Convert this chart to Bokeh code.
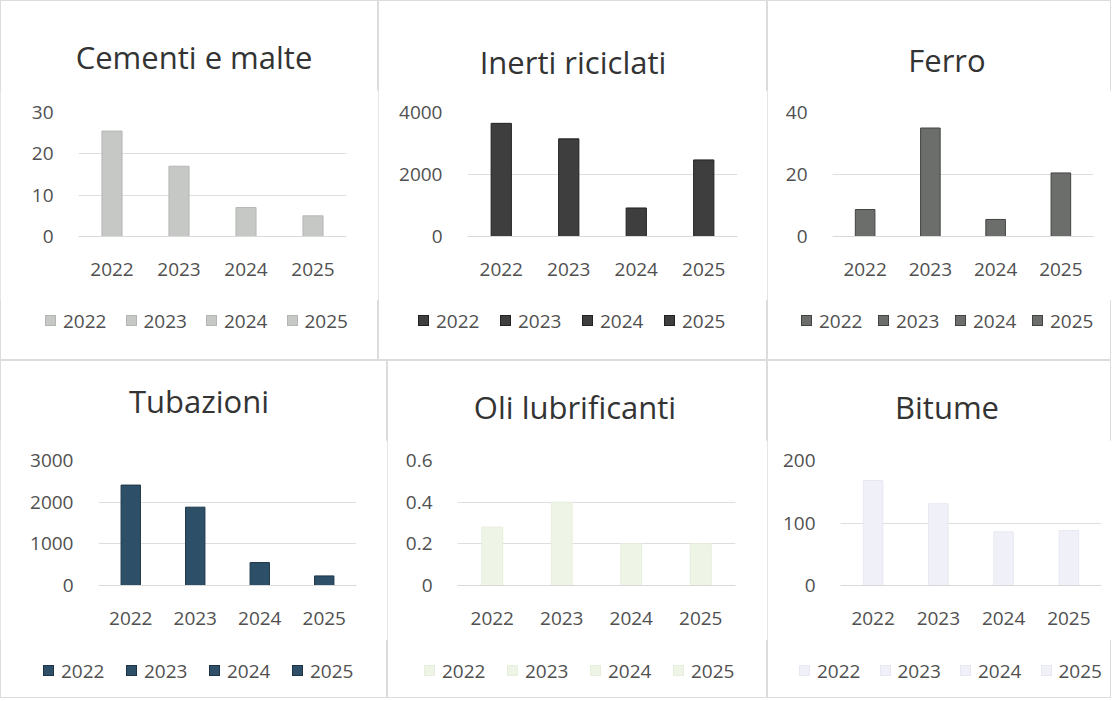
from bokeh.plotting import figure
from bokeh.models import ColumnDataSource, FactorRange, Range1d, FixedTicker, Div
from bokeh.layouts import column, row
from bokeh.embed import file_html
from bokeh.resources import INLINE

# ---------------- data ----------------
years = ["2022", "2023", "2024", "2025"]

titles = ["Cementi e malte", "Inerti riciclati", "Ferro",
          "Tubazioni", "Oli lubrificanti", "Bitume"]

cementi_malte = [25.5, 17, 7, 5]
inerti_riciclati = [3650, 3150, 920, 2470]
ferro = [8.7, 35, 5.5, 20.5]
tubazioni = [2410, 1880, 550, 230]
oli_lubrificanti = [0.28, 0.40, 0.20, 0.20]
bitume = [168, 131, 86, 88]

series = [cementi_malte, inerti_riciclati, ferro, tubazioni, oli_lubrificanti, bitume]

y_ticks = [[0, 10, 20, 30], [0, 2000, 4000], [0, 20, 40],
           [0, 1000, 2000, 3000], [0, 0.2, 0.4, 0.6], [0, 100, 200]]
y_tick_labels = [["0", "10", "20", "30"], ["0", "2000", "4000"], ["0", "20", "40"],
                 ["0", "1000", "2000", "3000"], ["0", "0.2", "0.4", "0.6"], ["0", "100", "200"]]

# ---------------- styles / layout ----------------
fills = ["#c6c8c6", "#3e3e3e", "#6c6e6c", "#2d5068", "#eef5e6", "#f0f0f8"]
lines = ["#b4b6b4", "#222222", "#424442", "#1d3547", "#e6efdc", "#e8e8f2"]

# row geometry: title height, chart height, chart border top, chart border bottom, legend height, legend centre y
ROW_TOP = dict(th=90, ch=210, mbt=22, mbb=64, lh=60, ly=20.5)
ROW_BOT = dict(th=80, ch=200, mbt=20, mbb=55, lh=58, ly=30.5)

# width, row, border left, border right, title centre x, title centre y, legend start x, legend step
panel_cfg = [
    (378, ROW_TOP, 78, 32, 194, 57, 45, 80.5),
    (389, ROW_TOP, 89, 30, 195, 62, 40, 82),
    (344, ROW_TOP, 65, 18, 180, 60, 34, 77),
    (387, ROW_BOT, 98, 31, 199, 41, 43, 83),
    (380, ROW_BOT, 70, 32, 188, 47, 37, 83),
    (344, ROW_BOT, 73, 10, 180, 47, 32, 80.5),
]

FONT = "'Open Sans'"
TEXT = "#505050"
DIV_STYLES = {"margin": "0", "padding": "0", "overflow": "visible"}


def title_div(i, w, g, tx, ty):
    html = (f'<div style="position:relative;width:{w}px;height:{g["th"]}px;">'
            f'<span style="position:absolute;left:{tx}px;top:{ty}px;'
            f'transform:translate(-50%,-50%);font-family:{FONT};font-size:31px;'
            f'line-height:1;color:#333333;white-space:nowrap;">{titles[i]}</span></div>')
    return Div(text=html, width=w, height=g["th"], styles=DIV_STYLES)


def legend_div(i, w, g, lx, step):
    parts = [f'<div style="position:relative;width:{w}px;height:{g["lh"]}px;">']
    cy = g["ly"]
    for k, y in enumerate(years):
        x0 = lx + k * step
        parts.append(
            f'<span style="position:absolute;left:{x0}px;top:{cy - 5.5}px;width:11px;height:11px;'
            f'box-sizing:border-box;background:{fills[i]};border:1px solid {lines[i]};"></span>')
        parts.append(
            f'<span style="position:absolute;left:{x0 + 18}px;top:{cy}px;transform:translateY(-50%);'
            f'font-family:{FONT};font-size:19px;line-height:1;color:{TEXT};white-space:nowrap;">{y}</span>')
    parts.append('</div>')
    return Div(text="".join(parts), width=w, height=g["lh"], styles=DIV_STYLES)


def make_panel(i):
    w, g, mbl, mbr, tx, ty, lx, step = panel_cfg[i]

    src = ColumnDataSource(dict(year=years, value=series[i]))
    p = figure(width=w, height=g["ch"], x_range=FactorRange(*years),
               y_range=Range1d(0, y_ticks[i][-1]),
               output_backend="svg", toolbar_location=None, title=None,
               min_border_left=mbl, min_border_right=mbr,
               min_border_top=g["mbt"], min_border_bottom=g["mbb"])
    p.x_range.range_padding = 0
    p.vbar(x="year", top="value", source=src, width=0.3,
           fill_color=fills[i], line_color=lines[i], line_width=1)
    p.outline_line_color = None
    p.background_fill_color = "white"
    p.border_fill_color = "white"
    p.xgrid.grid_line_color = None
    p.ygrid.grid_line_color = "#dedede"
    p.ygrid.ticker = FixedTicker(ticks=y_ticks[i])

    p.yaxis.ticker = FixedTicker(ticks=y_ticks[i])
    p.yaxis.major_label_overrides = {t_: s for t_, s in zip(y_ticks[i], y_tick_labels[i])}
    p.yaxis.axis_line_color = None
    p.yaxis.major_tick_line_color = None
    p.yaxis.minor_tick_line_color = None
    p.yaxis.major_label_standoff = 19
    p.yaxis.major_label_text_font = "Open Sans"
    p.yaxis.major_label_text_font_size = "19px"
    p.yaxis.major_label_text_color = TEXT

    p.xaxis.axis_line_color = "#d9d9d9"
    p.xaxis.major_tick_line_color = None
    p.xaxis.minor_tick_line_color = None
    p.xaxis.major_label_standoff = 20
    p.xaxis.major_label_text_font = "Open Sans"
    p.xaxis.major_label_text_font_size = "19px"
    p.xaxis.major_label_text_color = TEXT

    col = column(title_div(i, w, g, tx, ty), p, legend_div(i, w, g, lx, step))
    col.styles = {"outline": "1px solid #dcdcdc", "outline-offset": "-1px"}
    return col


panels = [make_panel(i) for i in range(6)]
layout = column(row(*panels[:3]), row(*panels[3:]))

open("out.html", "w").write(file_html(layout, INLINE))
